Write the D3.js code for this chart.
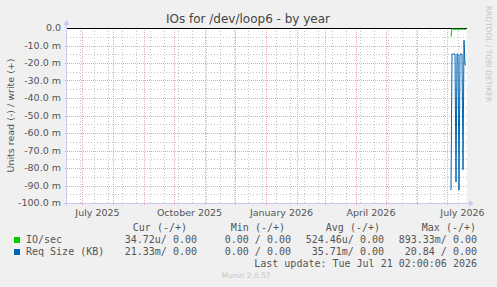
<!DOCTYPE html>
<html>
<head>
<meta charset="utf-8">
<script src="https://cdn.jsdelivr.net/npm/d3@7"></script>
<style>
	body { margin: 0; background: #f0f0f0; }
	svg { display: block; }
</style>
</head>
<body>
<div id="chart"></div>
<script>
///////////////////////////////////////////////////////////////////////////
//////////////////////////// Chart data ///////////////////////////////////
///////////////////////////////////////////////////////////////////////////

var title = "IOs for /dev/loop6 - by year",
	yTitle = "Units read (-) / write (+)",
	startDate = "2025-06-16",
	endDate = "2026-07-21";

//Daily points, only the last few days hold data
var dataDates = ["2026-07-05","2026-07-06","2026-07-07","2026-07-08","2026-07-09","2026-07-10",
	"2026-07-11","2026-07-12","2026-07-13","2026-07-14","2026-07-15","2026-07-16",
	"2026-07-17","2026-07-18","2026-07-19","2026-07-20"];
var ioSec = [-0.0050,-0.0004,-0.0007,-0.0006,-0.0007,-0.0007,-0.0006,-0.0007,-0.0007,-0.0006,
	-0.0007,-0.0007,-0.0006,-0.0007,-0.0007,-0.0007];
var reqSize = [-0.0926,-0.0149,-0.0149,-0.0149,-0.0149,-0.0880,-0.0149,-0.0149,-0.0926,-0.0149,
	-0.0149,-0.0149,-0.0810,-0.0070,-0.0210,-0.0210];

var yTicks = [0,-0.01,-0.02,-0.03,-0.04,-0.05,-0.06,-0.07,-0.08,-0.09,-0.1],
	yTickLabels = ["0.0","-10.0 m","-20.0 m","-30.0 m","-40.0 m","-50.0 m","-60.0 m","-70.0 m","-80.0 m","-90.0 m","-100.0 m"],
	xLabelMonths = ["2025-07-01","2025-10-01","2026-01-01","2026-04-01","2026-07-01"],
	xTickLabels = ["July 2025","October 2025","January 2026","April 2026","July 2026"];

var legendNames = ["IO/sec", "Req Size (KB)"],
	legendColors = ["#00cc00", "#0066b3"],
	legendHeaders = ["Cur (-/+)", "Min (-/+)", "Avg (-/+)", "Max (-/+)"],
	legendCur = ["34.72u/ 0.00", "21.33m/ 0.00"],
	legendMin = [" 0.00 / 0.00", " 0.00 / 0.00"],
	legendAvg = ["524.46u/ 0.00", "35.71m/ 0.00"],
	legendMax = ["893.33m/ 0.00", "20.84 / 0.00"],
	lastUpdate = "Last update: Tue Jul 21 02:00:06 2026",
	version = "Munin 2.0.57",
	sideText = "RRDTOOL / TOBI OETIKER";

///////////////////////////////////////////////////////////////////////////
///////////////////////////// Set up SVG //////////////////////////////////
///////////////////////////////////////////////////////////////////////////

var width = 497,
	height = 287,
	plot = {left: 67, right: 467, top: 28, bottom: 203};

var parse = d3.utcParse("%Y-%m-%d");

var svg = d3.select("#chart").append("svg")
	.attr("width", width)
	.attr("height", height)
	.style("font-family", "'DejaVu Sans', sans-serif");

svg.append("rect")
	.attr("width", width)
	.attr("height", height)
	.style("fill", "#f0f0f0");

var x = d3.scaleUtc()
	.domain([parse(startDate), parse(endDate)])
	.range([plot.left, plot.right]);

var y = d3.scaleLinear()
	.domain([0, -0.1])
	.range([plot.top, plot.bottom]);

svg.append("rect")
	.attr("x", plot.left)
	.attr("y", plot.top)
	.attr("width", plot.right - plot.left)
	.attr("height", plot.bottom - plot.top)
	.style("fill", "#ffffff");

///////////////////////////////////////////////////////////////////////////
////////////////////////////// Grid lines /////////////////////////////////
///////////////////////////////////////////////////////////////////////////

//Minor vertical lines every other week, major ones at each month
var minorDates = d3.utcSunday.range(parse("2025-06-29"), parse(endDate), 1)
		.filter(function(d,i) { return i % 2 === 0; }),
	majorDates = d3.utcMonth.range(parse(startDate), parse(endDate));

var minorColor = "#c4c4c4",
	majorColor = "#eca8a8";

svg.selectAll(".minorX")
	.data(minorDates)
	.enter().append("line")
	.attr("class", "minorX")
	.attr("x1", function(d) { return Math.round(x(d)) + 0.5; })
	.attr("x2", function(d) { return Math.round(x(d)) + 0.5; })
	.attr("y1", plot.top)
	.attr("y2", plot.bottom + 2)
	.style("stroke", minorColor)
	.style("stroke-dasharray", "1,2");

var minorY = d3.range(1, 20, 2).map(function(i) { return -0.005 * i; });
svg.selectAll(".minorY")
	.data(minorY)
	.enter().append("line")
	.attr("class", "minorY")
	.attr("x1", plot.left)
	.attr("x2", plot.right)
	.attr("y1", function(d) { return Math.round(y(d)) + 0.5; })
	.attr("y2", function(d) { return Math.round(y(d)) + 0.5; })
	.style("stroke", minorColor)
	.style("stroke-dasharray", "1,2");

svg.selectAll(".majorX")
	.data(majorDates)
	.enter().append("line")
	.attr("class", "majorX")
	.attr("x1", function(d) { return Math.round(x(d)) + 0.5; })
	.attr("x2", function(d) { return Math.round(x(d)) + 0.5; })
	.attr("y1", plot.top)
	.attr("y2", plot.bottom + 3)
	.style("stroke", majorColor)
	.style("stroke-dasharray", "1,1");

svg.selectAll(".majorY")
	.data(yTicks.slice(1))
	.enter().append("line")
	.attr("class", "majorY")
	.attr("x1", plot.left - 2)
	.attr("x2", plot.right)
	.attr("y1", function(d) { return Math.round(y(d)) + 0.5; })
	.attr("y2", function(d) { return Math.round(y(d)) + 0.5; })
	.style("stroke", majorColor)
	.style("stroke-dasharray", "1,1");

///////////////////////////////////////////////////////////////////////////
//////////////////////////////// Axes /////////////////////////////////////
///////////////////////////////////////////////////////////////////////////

var axisColor = "#c8c8f4";

svg.append("line")
	.attr("x1", plot.left - 0.5).attr("x2", plot.left - 0.5)
	.attr("y1", plot.bottom + 3).attr("y2", plot.top - 4)
	.style("stroke", axisColor);
svg.append("path")
	.attr("d", "M" + (plot.left - 3.5) + "," + (plot.top - 3) + "L" + (plot.left - 0.5) + "," + (plot.top - 8) + "L" + (plot.left + 2.5) + "," + (plot.top - 3) + "Z")
	.style("fill", axisColor);

svg.append("line")
	.attr("x1", plot.left - 3).attr("x2", plot.right + 3)
	.attr("y1", plot.bottom + 0.5).attr("y2", plot.bottom + 0.5)
	.style("stroke", axisColor);
svg.append("path")
	.attr("d", "M" + (plot.right + 2) + "," + (plot.bottom - 2.5) + "L" + (plot.right + 7) + "," + (plot.bottom + 0.5) + "L" + (plot.right + 2) + "," + (plot.bottom + 3.5) + "Z")
	.style("fill", axisColor);

//Y tick labels
svg.selectAll(".yLabel")
	.data(yTicks)
	.enter().append("text")
	.attr("class", "yLabel")
	.attr("x", plot.left - 6)
	.attr("y", function(d) { return y(d); })
	.attr("dy", ".35em")
	.style("text-anchor", "end")
	.style("font-size", "9.5px")
	.style("fill", "#555")
	.text(function(d,i) { return yTickLabels[i]; });

//X tick labels, centred in the middle of their month
svg.selectAll(".xLabel")
	.data(xLabelMonths)
	.enter().append("text")
	.attr("class", "xLabel")
	.attr("x", function(d) {
		var m = parse(d);
		return (x(m) + x(d3.utcMonth.offset(m, 1))) / 2;
	})
	.attr("y", 216)
	.style("text-anchor", "middle")
	.style("font-size", "9.5px")
	.style("fill", "#555")
	.text(function(d,i) { return xTickLabels[i]; });

svg.append("text")
	.attr("transform", "translate(14," + ((plot.top + plot.bottom) / 2) + ") rotate(-90)")
	.style("text-anchor", "middle")
	.style("font-size", "9.5px")
	.style("fill", "#555")
	.text(yTitle);

svg.append("text")
	.attr("x", 248)
	.attr("y", 23)
	.style("text-anchor", "middle")
	.style("font-size", "12px")
	.style("fill", "#444")
	.text(title);

svg.append("text")
	.attr("transform", "translate(486,54) rotate(90)")
	.style("text-anchor", "middle")
	.style("font-size", "7.5px")
	.style("fill", "#c4c4c4")
	.text(sideText);

///////////////////////////////////////////////////////////////////////////
//////////////////////////////// Lines ////////////////////////////////////
///////////////////////////////////////////////////////////////////////////

//Zero line on top
svg.append("line")
	.attr("x1", plot.left).attr("x2", plot.right)
	.attr("y1", Math.round(y(0)) + 0.5).attr("y2", Math.round(y(0)) + 0.5)
	.style("stroke", "#000");

var line = d3.line()
	.x(function(d) { return x(d.date); })
	.y(function(d) { return y(d.value); });

[ioSec, reqSize].forEach(function(series, s) {
	var pts = series.map(function(v,i) { return {date: parse(dataDates[i]), value: v}; });
	svg.append("path")
		.datum(pts)
		.attr("d", line)
		.style("fill", "none")
		.style("stroke", legendColors[s])
		.style("stroke-width", 1);
});

///////////////////////////////////////////////////////////////////////////
/////////////////////////////// Legend ////////////////////////////////////
///////////////////////////////////////////////////////////////////////////

var mono = "'DejaVu Sans Mono', monospace",
	colEnds = [197, 291, 384, 477],
	headerEnds = [187, 285, 380, 476],
	columns = [legendCur, legendMin, legendAvg, legendMax];

svg.selectAll(".legendHeader")
	.data(legendHeaders)
	.enter().append("text")
	.attr("class", "legendHeader")
	.attr("x", function(d,i) { return headerEnds[i]; })
	.attr("y", 231)
	.style("text-anchor", "end")
	.style("font-family", mono)
	.style("font-size", "10px")
	.style("fill", "#555")
	.style("white-space", "pre")
	.text(function(d) { return d; });

var legendRow = svg.selectAll(".legendRow")
	.data(legendNames)
	.enter().append("g")
	.attr("class", "legendRow")
	.attr("transform", function(d,i) { return "translate(0," + (243 + i * 12) + ")"; });

legendRow.append("rect")
	.attr("x", 14)
	.attr("y", -6)
	.attr("width", 6)
	.attr("height", 6)
	.style("fill", function(d,i) { return legendColors[i]; });

legendRow.append("text")
	.attr("x", 26)
	.style("font-family", mono)
	.style("font-size", "10px")
	.style("fill", "#555")
	.text(function(d) { return d; });

columns.forEach(function(col, c) {
	legendRow.append("text")
		.attr("x", colEnds[c])
		.style("text-anchor", "end")
		.style("font-family", mono)
		.style("font-size", "10px")
		.style("fill", "#555")
		.style("white-space", "pre")
		.text(function(d,i) { return col[i]; });
});

svg.append("text")
	.attr("x", 477)
	.attr("y", 267)
	.style("text-anchor", "end")
	.style("font-family", mono)
	.style("font-size", "10px")
	.style("fill", "#555")
	.text(lastUpdate);

svg.append("text")
	.attr("x", 246)
	.attr("y", 278)
	.style("text-anchor", "middle")
	.style("font-size", "7.5px")
	.style("fill", "#c4c4c4")
	.text(version);
</script>
</body>
</html>
